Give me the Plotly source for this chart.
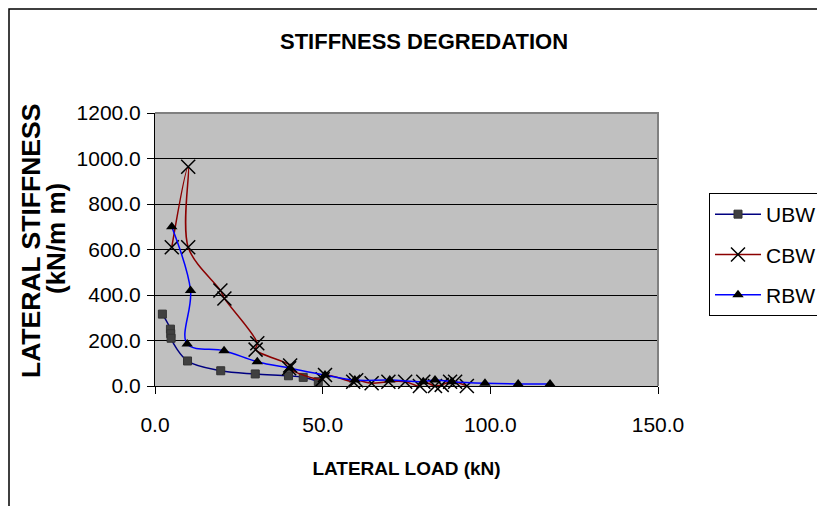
import plotly.graph_objects as go

# ---- data ----
ubw_x = [2.2, 4.6, 4.7, 4.8, 9.7, 19.6, 29.9, 39.8, 44.2, 48.7]
ubw_y = [316, 250, 230, 210, 110, 67, 53, 45, 38, 19]

cbw_x = [5.0, 9.9, 9.9, 19.5, 20.7, 30.5, 30.0, 40.3, 40.0, 50.0, 50.7,
         59.1, 60.0, 64.6, 69.6, 74.6, 79.0, 80.0, 83.5, 85.5, 88.0, 89.5, 93.0]
cbw_y = [610, 964, 610, 420, 385, 188, 160, 90, 78, 30, 48,
         19, 25, 12, 19, 19, 0, 19, 0, 5, 19, 19, 0]

rbw_x = [5.0, 10.6, 9.6, 20.6, 30.5, 40.3, 50.7, 59.6, 70.0, 80.0, 83.5,
         88.5, 98.4, 108.3, 117.8]
rbw_y = [700, 420, 185, 155, 107, 78, 48, 26, 26, 19, 26,
         19, 12, 9, 9]

x_ticks = [0, 50, 100, 150]
y_ticks = [0, 200, 400, 600, 800, 1000, 1200]

FONT = "Liberation Sans, Arial, sans-serif"

fig = go.Figure()
fig.add_trace(go.Scatter(
    x=ubw_x, y=ubw_y, name="UBW", mode="lines+markers", legendgroup="a",
    line=dict(color="#000080", width=1.5, shape="spline", smoothing=1),
    marker=dict(symbol="square", size=8, color="#404040",
                line=dict(color="#333333", width=1)),
    cliponaxis=False))
fig.add_trace(go.Scatter(
    x=cbw_x, y=cbw_y, name="CBW", mode="lines+markers", legendgroup="b",
    line=dict(color="#8B0000", width=1.5, shape="spline", smoothing=1),
    marker=dict(symbol="x-thin", size=14, color="black",
                line=dict(color="black", width=1.5)),
    cliponaxis=False))
fig.add_trace(go.Scatter(
    x=rbw_x, y=rbw_y, name="RBW", mode="lines+markers", legendgroup="c",
    line=dict(color="#0000FF", width=1.5, shape="spline", smoothing=1),
    marker=dict(symbol="triangle-up", size=10, color="black"),
    cliponaxis=False))

OFF = 8  # page body margin
W, H = 825 - OFF, 506 - OFF
L, R, T, B = 155 - OFF, 658 - OFF, 113 - OFF, 386 - OFF
pw, ph = R - L, B - T

def px(xp):  # window pixel x -> paper
    return (xp - OFF - L) / pw

def py(yp):  # window pixel y -> paper
    return (B - (yp - OFF)) / ph

fig.update_layout(
    width=W, height=H,
    margin=dict(l=L, r=W - R, t=T, b=H - B, pad=0, autoexpand=False),
    paper_bgcolor="white", plot_bgcolor="#C0C0C0",
    font=dict(family=FONT, size=21, color="black"),
    title=dict(text="<b>STIFFNESS DEGREDATION</b>", x=px(424), xanchor="center",
               y=1 - (41 - OFF) / H, yanchor="middle", xref="paper", yref="container",
               font=dict(size=22)),
    showlegend=True,
    legend=dict(x=px(709), y=py(193), xanchor="left", yanchor="top",
                bgcolor="white", bordercolor="black", borderwidth=1,
                font=dict(size=21), tracegroupgap=10, itemwidth=46),
    xaxis=dict(range=[0, 150], tickvals=x_ticks, tickformat=".1f",
               showgrid=False, zeroline=False, showline=True, linecolor="black",
               linewidth=1, ticks="outside", ticklen=7, tickcolor="black",
               automargin=False, ticklabelstandoff=13,
               title=dict(text="<b>LATERAL LOAD (kN)</b>", font=dict(size=19),
                          standoff=26)),
    yaxis=dict(range=[0, 1200], tickvals=y_ticks, tickformat=".1f",
               showgrid=True, gridcolor="black", gridwidth=1, zeroline=False,
               showline=True, linecolor="black", linewidth=1,
               ticks="outside", ticklen=7, tickcolor="black",
               automargin=False, ticklabelstandoff=2),
    annotations=[
        dict(text="<b>LATERAL STIFFNESS</b>", xref="paper", yref="paper",
             x=px(31), y=py(241), xanchor="center", yanchor="middle",
             textangle=-90, showarrow=False, font=dict(size=26.5)),
        dict(text="<b>(kN/m m)</b>", xref="paper", yref="paper",
             x=px(56), y=py(239), xanchor="center", yanchor="middle",
             textangle=-90, showarrow=False, font=dict(size=26)),
    ],
    shapes=[
        dict(type="path", xref="paper", yref="paper",
             path="M 0 1 L 1 1 L 1 0", line=dict(color="#808080", width=2)),
        dict(type="rect", xref="paper", yref="paper",
             x0=px(OFF + 1), y0=py(700), x1=px(1000), y1=py(9),
             line=dict(color="black", width=1.5), layer="below"),
    ],
)

fig.write_html("out.html")
